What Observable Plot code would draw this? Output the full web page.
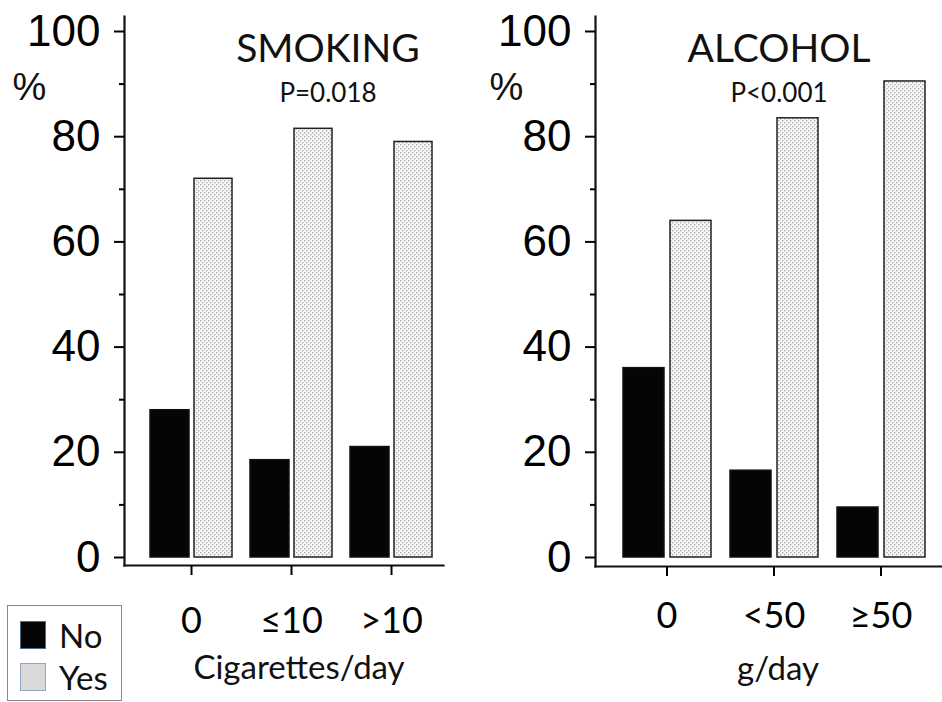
<!DOCTYPE html>
<html>
<head>
<meta charset="utf-8">
<script src="https://cdn.jsdelivr.net/npm/d3@7"></script>
<script src="https://cdn.jsdelivr.net/npm/@observablehq/plot@0.6"></script>
<style>
  html, body { margin: 0; padding: 0; background: #fff; }
  #wrap { position: relative; width: 942px; height: 702px; display: flex; overflow: hidden; }
  #legend { position: absolute; left: 7px; top: 605px; width: 115px; height: 96px; border: 1.5px solid #8a8a8a; background: #fff;
            font-family: Lato, sans-serif; font-size: 33px; color: #111; box-sizing: border-box; }
  .row { position: absolute; left: 12px; display: flex; align-items: center; }
  .sw { width: 26px; height: 28px; box-sizing: border-box; margin-right: 13px; }
</style>
</head>
<body>
<div id="wrap">
  <div id="left"></div>
  <div id="right"></div>
  <div id="legend">
    <div class="row" style="top:9px"><div class="sw" style="background:#050505;border:1.5px solid #4a6a8a"></div><span>No</span></div>
    <div class="row" style="top:51px"><div class="sw" style="background:#dadada;border:1.5px solid #8fa8c4"></div><span>Yes</span></div>
  </div>
</div>
<script>
// ---- data ----
const smokingCats = ["0", "≤10", ">10"];
const smokingNo = [28, 18.5, 21];
const smokingYes = [72, 81.5, 79];
const alcoholCats = ["0", "<50", "≥50"];
const alcoholNo = [36, 16.5, 9.5];
const alcoholYes = [64, 83.5, 90.5];
const yMajorTicks = [0, 20, 40, 60, 80, 100];
const yMinorTicks = [10, 30, 50, 70, 90];
const panelTitles = ["SMOKING", "ALCOHOL"];
const panelPvalues = ["P=0.018", "P<0.001"];
const panelXLabels = ["Cigarettes/day", "g/day"];
const yUnit = "%";

function addPattern(svg, id) {
  const defs = d3.select(svg).insert("defs", ":first-child");
  const p = defs.append("pattern").attr("id", id).attr("patternUnits", "userSpaceOnUse")
    .attr("width", 4).attr("height", 4);
  p.append("rect").attr("width", 4).attr("height", 4).attr("fill", "#f8f8f8");
  p.append("rect").attr("x", 0).attr("y", 0).attr("width", 1.4).attr("height", 1.4).attr("fill", "#adadad");
  p.append("rect").attr("x", 2).attr("y", 2).attr("width", 1.4).attr("height", 1.4).attr("fill", "#adadad");
}

function panel(opts) {
  const {cats, no, yes, title, pval, xlabel, width, marginLeft, marginRight, marginBottom, xRange,
         noInset, yesInset, tickPadding, titleDx, labelDx, pctDx, patId} = opts;
  const noData = cats.map((c, i) => ({cat: c, v: no[i]}));
  const yesData = cats.map((c, i) => ({cat: c, v: yes[i]}));
  const svg = Plot.plot({
    width, height: 702,
    marginTop: 16, marginLeft, marginRight, marginBottom,
    style: {fontFamily: "Lato, sans-serif", background: "white", color: "black", overflow: "visible"},
    x: {domain: cats, range: xRange, padding: 0},
    y: {domain: [0, 100], range: [557, 31]},
    marks: [
      Plot.barY(noData, {x: "cat", y: "v", fill: "#050505", stroke: "#111", strokeWidth: 1.5,
        insetLeft: noInset[0], insetRight: noInset[1]}),
      Plot.barY(yesData, {x: "cat", y: "v", fill: `url(#${patId})`, stroke: "#222", strokeWidth: 1.5,
        insetLeft: yesInset[0], insetRight: yesInset[1]}),
      Plot.frame({anchor: "left", stroke: "#111", strokeWidth: 2.2}),
      Plot.frame({anchor: "bottom", stroke: "#111", strokeWidth: 2.2}),
      Plot.axisY({ticks: yMajorTicks, tickSize: 10, tickPadding: 14, fontSize: 44, strokeWidth: 2,
        label: null, fontFamily: "Liberation Sans, Arial, sans-serif"}),
      Plot.axisY({ticks: yMinorTicks, tickSize: 5, tickFormat: () => "", strokeWidth: 2, label: null}),
      Plot.axisX({tickSize: 10, tickPadding, fontSize: 36, strokeWidth: 2, label: null}),
      Plot.text([title], {frameAnchor: "top", dx: titleDx, dy: 45, lineAnchor: "bottom", fontSize: 39, fill: "#111"}),
      Plot.text([pval], {frameAnchor: "top", dx: titleDx, dy: 85, lineAnchor: "bottom", fontSize: 26, fill: "#111"}),
      Plot.text([yUnit], {frameAnchor: "top-left", dx: pctDx, dy: 83, lineAnchor: "bottom", textAnchor: "middle",
        fontSize: 38, fontFamily: "Liberation Sans, Arial, sans-serif", fill: "#111"}),
      Plot.text([xlabel], {frameAnchor: "bottom", dx: labelDx, dy: 113, lineAnchor: "bottom", fontSize: 33, fill: "#111"})
    ]
  });
  addPattern(svg, patId);
  return svg;
}

document.getElementById("left").appendChild(panel({
  cats: smokingCats, no: smokingNo, yes: smokingYes,
  title: panelTitles[0], pval: panelPvalues[0], xlabel: panelXLabels[0],
  width: 470, marginLeft: 124, marginRight: 27, marginBottom: 137, xRange: [141, 441],
  noInset: [9, 52], yesInset: [53, 9], tickPadding: 32, titleDx: 44, labelDx: 15, pctDx: -95, patId: "dotsL"
}));
document.getElementById("right").appendChild(panel({
  cats: alcoholCats, no: alcoholNo, yes: alcoholYes,
  title: panelTitles[1], pval: panelPvalues[1], xlabel: panelXLabels[1],
  width: 472, marginLeft: 125, marginRight: 0, marginBottom: 136, xRange: [142, 465],
  noInset: [10, 56], yesInset: [57, 9], tickPadding: 26, titleDx: 10, labelDx: 9, pctDx: -89, patId: "dotsR"
}));
</script>
</body>
</html>
